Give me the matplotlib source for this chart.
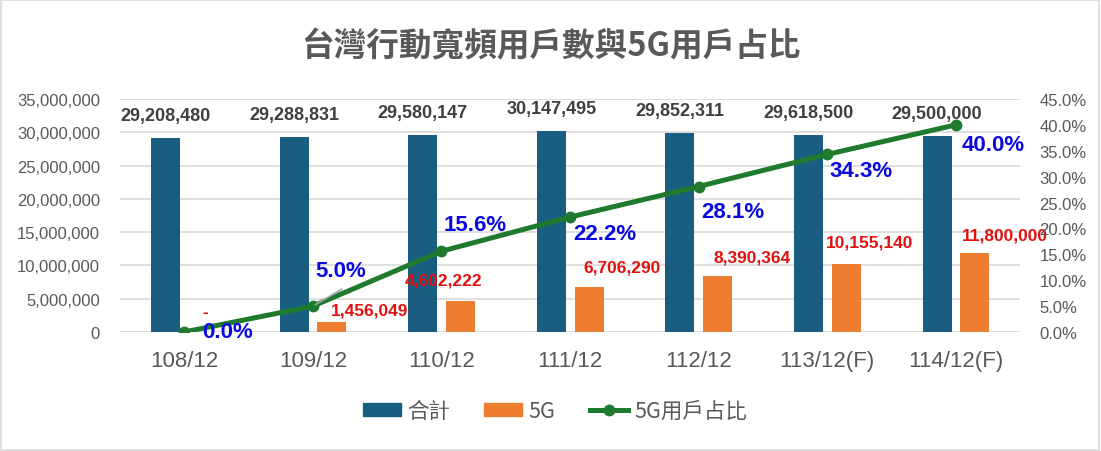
import matplotlib
matplotlib.use("Agg")
import matplotlib.pyplot as plt
from matplotlib.lines import Line2D
from matplotlib.patches import Patch, Rectangle
import numpy as np

plt.rcParams["font.family"] = ["Liberation Sans", "Noto Sans CJK TC", "DejaVu Sans"]

# data
periods = ["108/12", "109/12", "110/12", "111/12", "112/12", "113/12(F)", "114/12(F)"]
total_users = [29208480, 29288831, 29580147, 30147495, 29852311, 29618500, 29500000]
users_5g = [0, 1456049, 4602222, 6706290, 8390364, 10155140, 11800000]
share_5g = [0.0, 0.050, 0.156, 0.222, 0.281, 0.343, 0.400]

# label nudges in pixels (dx, dy), tuned by eye to match the original
red_off = [(2, 20), (38, 12), (-17, 21), (33, 20), (34, 19), (23, 22), (30, 18)]
pct_off = [(43, 0), (28, 36), (34, 27), (35, -16), (34, -25), (34, -16), (37, -20)]

C_TOTAL = "#195e80"
C_5G = "#ed7d31"
C_LINE = "#1e7a2c"
C_GRAY = "#595959"

fig = plt.figure(figsize=(11.01, 4.52), dpi=100)
fig.patches.append(Rectangle((0.001, 0.002), 0.997, 0.995, transform=fig.transFigure,
                             fill=False, edgecolor="#d9d9d9", lw=1.2))

ax = fig.add_axes([120 / 1101, 119 / 452, 900 / 1101, 233 / 452])
ax2 = ax.twinx()

x = np.arange(len(periods))
w = 0.226
ax.bar(x - 0.145, total_users, w, color=C_TOTAL, zorder=2)
ax.bar(x + 0.148, users_5g, w, color=C_5G, zorder=2)

ax.set_xlim(-0.5, 6.5)
ax.set_ylim(0, 35_000_000)
ax.set_yticks(np.arange(0, 35_000_001, 5_000_000))
ax.yaxis.set_major_formatter(matplotlib.ticker.FuncFormatter(lambda v, p: f"{int(v):,}"))
ax.set_xticks(x)
ax.set_xticklabels(periods)
ax.grid(axis="y", color="#d9d9d9", lw=1.2, zorder=0)
ax.set_axisbelow(True)
for sp in ax.spines.values():
    sp.set_visible(False)
for sp in ax2.spines.values():
    sp.set_visible(False)
ax.tick_params(axis="y", length=0, labelsize=12, labelcolor=C_GRAY, pad=14.5)
ax.tick_params(axis="x", length=0, labelsize=16, labelcolor=C_GRAY, pad=13)

for xi, v in zip(x, total_users):
    ax.annotate(f"{v:,}", (xi - 0.145, v), xytext=(0, 14), textcoords="offset pixels",
                ha="center", va="bottom", fontsize=13, fontweight="bold", color="#404040")

for xi, v, (dx, dy) in zip(x, users_5g, red_off):
    txt = f"{v:,}" if v else "-"
    ax.annotate(txt, (xi + 0.148, v), xytext=(dx, dy), textcoords="offset pixels",
                ha="center", va="center", fontsize=12.5, fontweight="bold", color="#e31010")

ax2.set_ylim(0, 0.45)
ax2.set_yticks(np.arange(0, 0.451, 0.05))
ax2.yaxis.set_major_formatter(matplotlib.ticker.FuncFormatter(lambda v, p: f"{v * 100:.1f}%"))
ax2.tick_params(axis="y", length=0, labelsize=12, labelcolor=C_GRAY, pad=14)

ax2.plot(x, share_5g, color=C_LINE, lw=3.6, marker="o", ms=7.5, zorder=3)
ax2.annotate("", xy=(x[1], share_5g[1]), xytext=(29, 17), textcoords="offset pixels",
             arrowprops=dict(arrowstyle="-", color="#a6a6a6", lw=1.2, shrinkA=0, shrinkB=2))
for xi, v, (dx, dy) in zip(x, share_5g, pct_off):
    ax2.annotate(f"{v * 100:.1f}%", (xi, v), xytext=(dx, dy), textcoords="offset pixels",
                 ha="center", va="center", fontsize=16, fontweight="bold", color="#0a0ae0",
                 zorder=4)

fig.text(0.5, 1 - 47 / 452, "台灣行動寬頻用戶數與5G用戶占比", ha="center", va="center",
         fontsize=23.5, fontweight="bold", color=C_GRAY,
         family=["Noto Sans CJK TC", "DejaVu Sans"])

handles = [Patch(color=C_TOTAL), Patch(color=C_5G),
           Line2D([], [], color=C_LINE, lw=3.6, marker="o", ms=7.5)]
leg = fig.legend(handles, ["合計", "5G", "5G用戶占比"], loc="center",
                 bbox_to_anchor=(0.504, 1 - 412 / 452), ncol=3, frameon=False,
                 fontsize=15.5, handlelength=1.75, handleheight=0.6, handletextpad=0.3,
                 columnspacing=1.6)
for t in leg.get_texts():
    t.set_color(C_GRAY)
    t.set_family(["Noto Sans CJK TC", "DejaVu Sans"])

fig.savefig("out.png", dpi=100)
